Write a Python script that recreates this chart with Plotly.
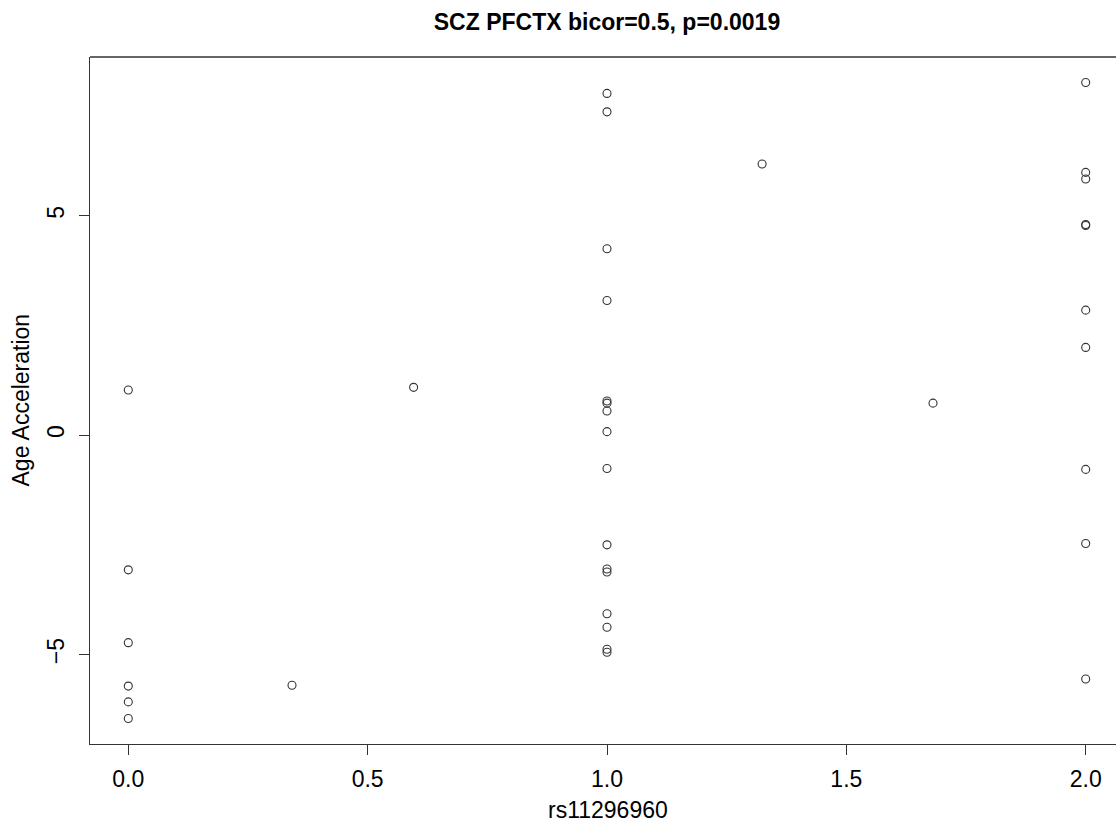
import plotly.graph_objects as go

# Genotype dosage of rs11296960 and epigenetic age acceleration per sample
genotype = [
    0, 0, 0, 0, 0, 0,
    0.342, 0.596,
    1, 1, 1, 1, 1, 1, 1, 1, 1, 1, 1, 1, 1, 1, 1, 1,
    1.324, 1.681,
    2, 2, 2, 2, 2, 2, 2, 2, 2, 2,
]
age_accel = [
    1.03, -3.07, -4.73, -5.72, -6.08, -6.46,
    -5.70, 1.09,
    7.79, 7.37, 4.25, 3.07, 0.78, 0.73, 0.55, 0.08, -0.76, -2.50,
    -3.05, -3.12, -4.07, -4.38, -4.88, -4.95,
    6.18, 0.73,
    8.04, 5.99, 5.84, 4.80, 4.78, 2.85, 2.00, -0.78, -2.47, -5.56,
]
x_ticks = [0, 0.5, 1, 1.5, 2]
x_tick_text = ["0.0", "0.5", "1.0", "1.5", "2.0"]
y_ticks = [-5, 0, 5]

title = "SCZ PFCTX bicor=0.5, p=0.0019"
x_label = "rs11296960"
y_label = "Age Acceleration"

W, H = 1116, 823
ML, MR, MT, MB = 90, 0, 57, 79
FONT = "Liberation Sans, Arial, sans-serif"
INK = "#333333"

# R-style 4% padding on both axes; the right edge of the frame runs past the page
xmin, xmax = min(genotype), max(genotype)
pad_x = 0.04 * (xmax - xmin)
full_lo, full_hi = xmin - pad_x, xmax + pad_x
full_px = 1034.0
vis_px = W - ML - MR
x_range = [full_lo, full_lo + (full_hi - full_lo) * vis_px / full_px]

ymin, ymax = min(age_accel), max(age_accel)
pad_y = 0.04 * (ymax - ymin)
y_range = [ymin - pad_y, ymax + pad_y]

fig = go.Figure()
fig.add_trace(go.Scatter(
    x=genotype, y=age_accel, mode="markers",
    marker=dict(symbol="circle-open", size=8, color=INK,
                line=dict(width=1.1, color=INK)),
    showlegend=False, hoverinfo="x+y",
))

axis_common = dict(
    showgrid=False, zeroline=False, showline=True, linecolor=INK, linewidth=1.3,
    ticks="outside", ticklen=10, tickwidth=1.3, tickcolor=INK,
    tickfont=dict(family=FONT, size=23, color="#000000"),
)
fig.update_xaxes(range=x_range, tickvals=x_ticks, ticktext=x_tick_text,
                 ticklabelstandoff=4, **axis_common)
fig.update_yaxes(range=y_range, tickvals=y_ticks, tickangle=-90,
                 ticklabelstandoff=6, **axis_common)

# top edge of the frame
fig.add_shape(type="line", xref="paper", yref="paper", x0=0, x1=1, y0=1, y1=1,
              line=dict(color=INK, width=1.3))

fig.add_annotation(text=x_label, xref="paper", yref="paper",
                   x=(608 - ML) / vis_px, y=-(810 - (H - MB)) / (H - MT - MB),
                   xanchor="center", yanchor="middle", showarrow=False,
                   font=dict(family=FONT, size=23, color="#000000"))
fig.add_annotation(text=y_label, xref="paper", yref="paper",
                   x=(20 - ML) / vis_px, y=0.5, textangle=-90,
                   xanchor="center", yanchor="middle", showarrow=False,
                   font=dict(family=FONT, size=23, color="#000000"))

fig.update_layout(
    width=W, height=H,
    margin=dict(l=ML, r=MR, t=MT, b=MB),
    paper_bgcolor="white", plot_bgcolor="white",
    title=dict(text="<b>" + title + "</b>", x=607 / W, xanchor="center",
               y=1 - 22 / H, yanchor="middle",
               font=dict(family=FONT, size=23, color="#000000")),
)

fig.write_html("out.html")
